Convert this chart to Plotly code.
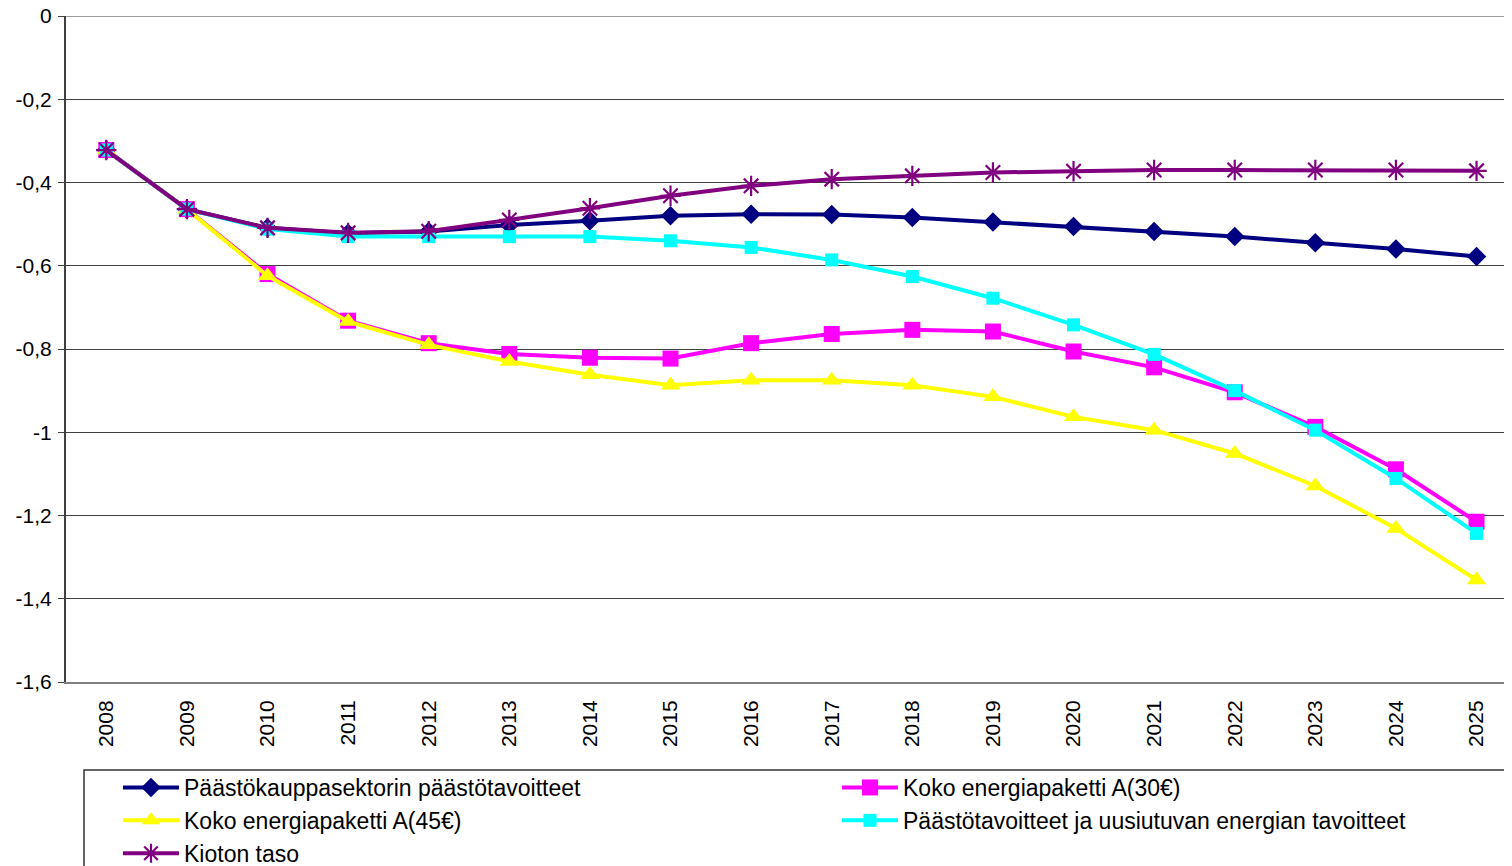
import plotly.graph_objects as go

years = [str(y) for y in range(2008, 2026)]

paastokauppa = [-0.322, -0.464, -0.509, -0.522, -0.518, -0.502, -0.492, -0.480, -0.476,
                -0.477, -0.484, -0.495, -0.506, -0.518, -0.530, -0.545, -0.560, -0.578]
koko_30 = [-0.322, -0.464, -0.620, -0.732, -0.786, -0.812, -0.821, -0.823, -0.786,
           -0.764, -0.754, -0.758, -0.806, -0.844, -0.904, -0.987, -1.089, -1.215]
koko_45 = [-0.322, -0.464, -0.624, -0.734, -0.790, -0.830, -0.862, -0.887, -0.875,
           -0.875, -0.887, -0.915, -0.963, -0.995, -1.051, -1.129, -1.231, -1.355]
paasto_uusiutuva = [-0.322, -0.464, -0.512, -0.530, -0.530, -0.530, -0.530, -0.540, -0.556,
                    -0.586, -0.626, -0.678, -0.742, -0.813, -0.900, -0.995, -1.111, -1.243]
kioto = [-0.322, -0.464, -0.509, -0.521, -0.517, -0.490, -0.462, -0.432, -0.408,
         -0.392, -0.384, -0.376, -0.373, -0.370, -0.370, -0.370, -0.370, -0.372]

y_ticks = [0, -0.2, -0.4, -0.6, -0.8, -1, -1.2, -1.4, -1.6]
y_ticktext = ["0", "-0,2", "-0,4", "-0,6", "-0,8", "-1", "-1,2", "-1,4", "-1,6"]

FONT = "Liberation Sans, Arial, sans-serif"
LW = 4

# pixel helpers (absolute page pixels -> paper coords); plot area spans x 66..1512, y 16..682
def px_x(p):
    return (p - 66) / 1446

def px_y(p):
    return (682 - p) / 666

fig = go.Figure()
fig.add_trace(go.Scatter(x=years, y=paastokauppa, name="Päästökauppasektorin päästötavoitteet",
                         mode="lines+markers", legend="legend",
                         line=dict(color="#000080", width=LW),
                         marker=dict(symbol="diamond", size=15, color="#000080")))
fig.add_trace(go.Scatter(x=years, y=koko_30, name="Koko energiapaketti A(30€)",
                         mode="lines+markers", legend="legend2",
                         line=dict(color="#FF00FF", width=LW),
                         marker=dict(symbol="square", size=16, color="#FF00FF")))
fig.add_trace(go.Scatter(x=years, y=koko_45, name="Koko energiapaketti A(45€)",
                         mode="lines+markers", legend="legend",
                         line=dict(color="#FFFF00", width=LW),
                         marker=dict(symbol="triangle-up", size=17, color="#FFFF00")))
fig.add_trace(go.Scatter(x=years, y=paasto_uusiutuva, name="Päästötavoitteet ja uusiutuvan energian tavoitteet",
                         mode="lines+markers", legend="legend2",
                         line=dict(color="#00FFFF", width=LW),
                         marker=dict(symbol="square", size=13, color="#00FFFF")))
fig.add_trace(go.Scatter(x=years, y=kioto, name="Kioton taso",
                         mode="lines+markers", legend="legend",
                         line=dict(color="#800080", width=LW),
                         marker=dict(symbol="asterisk-open", size=17,
                                     line=dict(color="#800080", width=2.2), color="#800080")))

# top gridline at 0
fig.add_shape(type="line", xref="paper", yref="y", x0=0, x1=1, y0=0, y1=0,
              line=dict(color="#404040", width=1), layer="below")

# legend frame (extends past the right and bottom edges as in the reference)
fig.add_shape(type="rect", xref="paper", yref="paper",
              x0=px_x(84), x1=1.05, y0=px_y(770), y1=px_y(930),
              line=dict(color="#333333", width=1.5), fillcolor="rgba(0,0,0,0)", layer="above")

legend_common = dict(font=dict(family=FONT, size=23, color="black"), bgcolor="rgba(0,0,0,0)",
                     borderwidth=0, itemwidth=56, tracegroupgap=0, orientation="v",
                     xanchor="left", yanchor="top", itemclick=False)

fig.update_layout(
    template="none",
    width=1504, height=858,
    margin=dict(l=58, r=0, t=8, b=184, pad=0, autoexpand=False),
    paper_bgcolor="white", plot_bgcolor="white",
    font=dict(family=FONT, color="black"),
    showlegend=True,
    legend=dict(x=px_x(118), y=px_y(766), **legend_common),
    legend2=dict(x=px_x(837), y=px_y(766), **legend_common),
    xaxis=dict(type="category", range=[-0.5, 17.44], showgrid=False, zeroline=False,
               showline=True, linecolor="#808080", linewidth=2, ticks="",
               tickangle=-90, tickfont=dict(family=FONT, size=21, color="black"),
               ticklabelstandoff=8, automargin=False, ticklabeloverflow="allow"),
    yaxis=dict(range=[-1.6, 0], tickvals=y_ticks, ticktext=y_ticktext,
               showgrid=True, gridcolor="#404040", gridwidth=1, zeroline=False,
               showline=True, linecolor="#404040", linewidth=2,
               ticks="outside", ticklen=6, tickcolor="#404040",
               tickfont=dict(family=FONT, size=21, color="black"),
               ticklabelstandoff=2, automargin=False, ticklabeloverflow="allow"),
)

fig.write_html("out.html", config={"displayModeBar": False})
